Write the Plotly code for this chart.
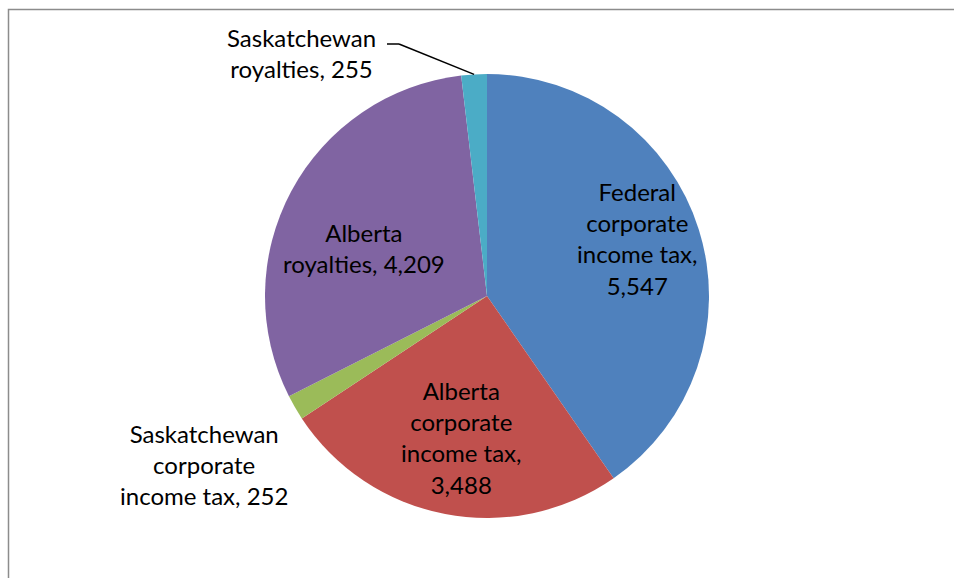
import math
import plotly.graph_objects as go

# Revenue components (millions of dollars)
labels = [
    "Federal<br>corporate<br>income tax,<br>",
    "Alberta<br>corporate<br>income tax,<br>",
    "Saskatchewan<br>corporate<br>income tax, ",
    "Alberta<br>royalties, ",
    "Saskatchewan<br>royalties, ",
]
values = [5547, 3488, 252, 4209, 255]
colors = ["#4F81BD", "#C0504D", "#9BBB59", "#8064A2", "#4BACC6"]

# Label centres in pixels (x, y from top) for each slice's text
label_pos = [(637, 238), (461, 437), (204, 464), (364, 248), (301, 53)]

W, H = 954, 578
cx, cy, r = 487, 296, 222

fig = go.Figure(
    go.Pie(
        labels=[l.replace("<br>", " ").strip(" ,") for l in labels],
        values=values,
        marker=dict(colors=colors, line=dict(width=0)),
        sort=False,
        direction="clockwise",
        rotation=0,
        textinfo="none",
        hoverinfo="label+value",
        domain=dict(
            x=[(cx - r) / W, (cx + r) / W],
            y=[(H - cy - r) / H, (H - cy + r) / H],
        ),
        showlegend=False,
    )
)

annotations = []
for lab, val, (px, py) in zip(labels, values, label_pos):
    annotations.append(
        dict(
            x=px / W,
            y=1 - py / H,
            xref="paper",
            yref="paper",
            text=f"{lab}{val:,}",
            showarrow=False,
            font=dict(family="Lato, Open Sans, sans-serif", size=24, color="#000000"),
            align="center",
            xanchor="center",
            yanchor="middle",
        )
    )

# Leader line from the Saskatchewan royalties label to the middle of its slice
total = sum(values)
start = sum(values[:4])
mid_frac = (start + values[4] / 2) / total
ang = 2 * math.pi * mid_frac
ex = cx + r * math.sin(ang)
ey = cy - r * math.cos(ang)
lx0, ly0 = 387, 44
lx1 = 399
shapes = [
    dict(type="line", xref="paper", yref="paper",
         x0=lx0 / W, y0=1 - ly0 / H, x1=lx1 / W, y1=1 - ly0 / H,
         line=dict(color="#000000", width=1.5)),
    dict(type="line", xref="paper", yref="paper",
         x0=lx1 / W, y0=1 - ly0 / H, x1=ex / W, y1=1 - ey / H,
         line=dict(color="#000000", width=1.5)),
    # chart frame
    dict(type="rect", xref="paper", yref="paper",
         x0=8.5 / W, y0=-0.1, x1=1.1, y1=1 - 9.5 / H,
         line=dict(color="#8C8C8C", width=1.5)),
]

fig.update_layout(
    width=W,
    height=H,
    margin=dict(l=0, r=0, t=0, b=0),
    paper_bgcolor="#FFFFFF",
    plot_bgcolor="#FFFFFF",
    annotations=annotations,
    shapes=shapes,
)

fig.write_html("out.html")
